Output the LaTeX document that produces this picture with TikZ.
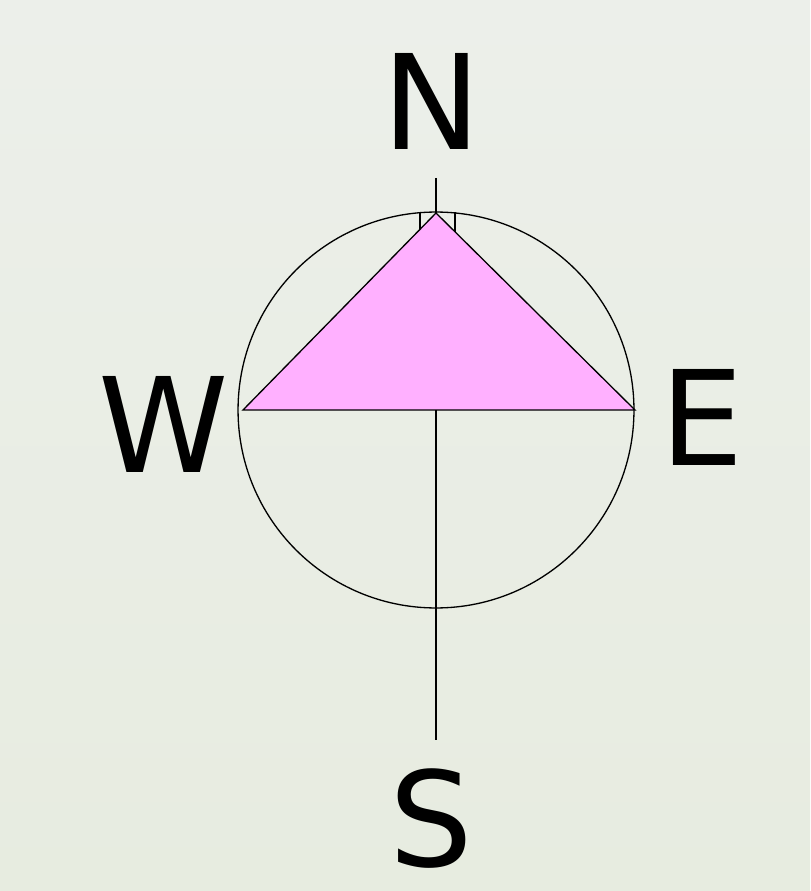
\documentclass[tikz,border=0pt]{standalone}
\usepackage{fontspec}
\setmainfont{DejaVu Sans}
\usetikzlibrary{positioning}
\definecolor{bgleaf}{HTML}{ECEFEA}
\definecolor{bgleaflow}{HTML}{E7ECE0}
\definecolor{pointerpink}{HTML}{FFB0FF}

\begin{document}
\begin{tikzpicture}[x=0.02cm, y=-0.02cm, line width=0.75pt,
    dirlabel/.style={inner sep=0pt, font=\fontsize{75}{90}\selectfont}]
  % backdrop
  \shade[top color=bgleaf, bottom color=bgleaflow] (0,0) rectangle (810,891);
  \useasboundingbox (0,0) rectangle (810,891);
  % key points
  \coordinate (centre) at (436,410);
  \coordinate (apex) at (436,213);
  \coordinate (westpt) at (243,410);
  \coordinate (eastpt) at (635,410);
  \coordinate (northtip) at (436,178);
  \coordinate (southtip) at (436,740);
  % ring
  \draw (centre) circle [radius=3.96cm];
  \draw (420,212) -- (420,235) (455,212) -- (455,235);
  \filldraw[fill=pointerpink] (apex) -- (westpt) -- (eastpt) -- cycle;
  \draw (northtip) -- (apex);
  \draw (centre) -- (southtip);
  % letters
  \node[dirlabel] (north) at (432,101) {N};
  \node[dirlabel] (west) at (164,424) {W};
  \node[dirlabel] (east) at (702,417) {E};
  \node[dirlabel] (south) at (431,819) {S};
\end{tikzpicture}
\end{document}
